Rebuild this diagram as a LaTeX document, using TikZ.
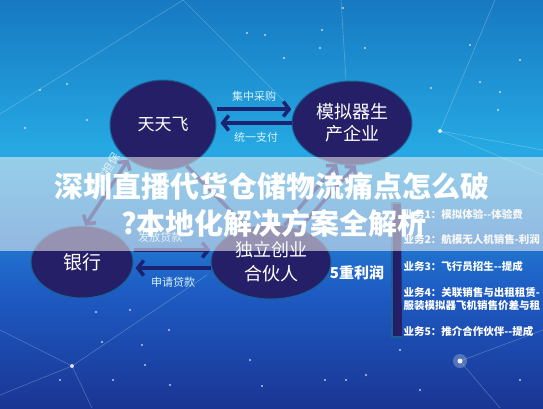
\documentclass[tikz,border=0pt]{standalone}
\usepackage{fontspec}
\setmainfont{Noto Sans CJK SC}
\usetikzlibrary{arrows.meta,shapes.geometric}
\definecolor{bgtop}{HTML}{1779C2}
\definecolor{bgmid}{HTML}{26A9E3}
\definecolor{bglow}{HTML}{1E5CC4}
\definecolor{bgbot}{HTML}{1A3594}
\definecolor{bubble}{HTML}{241F66}
\definecolor{navy}{HTML}{1B2272}
\tikzset{
  >={Straight Barb[length=6pt,width=15pt]},
  bubble/.style={ellipse, fill=bubble, draw=bubble!70!cyan, line width=1pt,
    text=white, align=center, inner sep=0pt},
  arr/.style={draw=navy, line width=3.5pt, ->},
  lbl/.style={text=white!85!cyan, font=\fontsize{11}{11}\selectfont},
  item/.style={anchor=west, text=white, font=\fontsize{10.5}{10.5}\selectfont\bfseries},
  ttl/.style={font=\fontsize{29}{29}\selectfont\bfseries, text=white, inner sep=0pt},
}
\begin{document}
\begin{tikzpicture}[x=1pt,y=-1pt]
  %%%%% background %%%%%
  \useasboundingbox (0,0) rectangle (543,408);
  \clip (0,0) rectangle (543,408);
  \shade[top color=bgtop, bottom color=bgmid] (0,0) rectangle (543,150);
  \shade[top color=bgmid, bottom color=bglow] (0,150) rectangle (543,290);
  \shade[top color=bglow, bottom color=bgbot] (0,290) rectangle (543,408);
  \draw[white, opacity=0.25, line width=0.6pt] (0,114) -- (183,0) -- (346,163);
  \draw[white, opacity=0.25, line width=0.6pt] (341,0) -- (346,80);
  \draw[white, opacity=0.25, line width=0.6pt] (495,0) -- (440,131) -- (543,150);
  \draw[white, opacity=0.25, line width=0.6pt] (440,131) -- (543,175);
  \draw[white, opacity=0.25, line width=0.6pt] (0,330) -- (72,366) -- (207,275);
  \draw[white, opacity=0.25, line width=0.6pt] (0,395) -- (72,366) -- (92,408);
  \draw[white, opacity=0.25, line width=0.6pt] (460,361) -- (543,330);
  \draw[white, opacity=0.25, line width=0.6pt] (460,361) -- (500,408);
  \foreach \sx/\sy in {247/33,265/35,320/48,322/30,284/58,365/48,431/88,480/82,
      500/92,498/110,40/90,67/84,87/120,25/128,343/8,470/45,520/60,
      96/312,130/310,102/342,142/345,169/330,145/365,113/380,250/360,262/386,
      325/380,346/380,366/375,400/350,420/390,500/333,520/380,170/385,60/380}
    \fill[white, opacity=0.7] (\sx,\sy) circle (1.1pt);
  \fill[white, opacity=0.25] (460,361) circle (7pt);
  \fill[white, opacity=0.9] (460,361) circle (2.5pt);
  \fill[white, opacity=0.8] (440,131) circle (2pt);
  \fill[white, opacity=0.8] (72,366) circle (2pt);

  %%%%% partners %%%%%
  \node[bubble, minimum width=106pt, minimum height=90pt,
    font=\fontsize{17}{17}\selectfont] (ttf) at (163,125) {天天飞};
  \node[bubble, minimum width=120pt, minimum height=84pt,
    font=\fontsize{18}{22}\selectfont] (mnq) at (352,123) {模拟器生\\产企业};
  \node[bubble, minimum width=102pt, minimum height=72pt,
    font=\fontsize{19}{19}\selectfont] (yh) at (82,262) {银行};
  \node[bubble, minimum width=120pt, minimum height=74pt,
    font=\fontsize{18}{24}\selectfont] (dl) at (271,262) {独立创业\\合伙人};

  \draw[arr] ([yshift=16pt]ttf.east) -- ([yshift=14pt]mnq.west)
    node[lbl, midway, above=3pt] {集中采购};
  \draw[arr] (mnq.west) -- ([xshift=4pt,yshift=2pt]ttf.east)
    node[lbl, midway, below=4pt] {统一支付};
  \draw[arr] ([yshift=12pt]yh.east) -- ([yshift=12pt]dl.west)
    node[lbl, pos=0.35, above=3pt] {发放贷款};
  \draw[arr] ([yshift=-6pt]dl.west) -- ([xshift=2pt,yshift=-6pt]yh.east)
    node[lbl, midway, below=4pt] {申请贷款};
  \draw[arr, <->] (ttf.225) -- (yh.85)
    node[lbl, pos=0.3, sloped, above=2pt] {贷款担保};
  \draw[arr] (ttf.300) -- (dl.125);
  \draw[arr] (dl.70) -- (mnq.250);
  \draw[arr] (dl.50) -- (mnq.275);

  %%%%% profits %%%%%
  \node[text=white, font=\fontsize{15}{15}\selectfont\bfseries] (lr) at (357,273) {5重利润};
  \draw[bubble, line width=2pt] (401,203) -- (392,203) -- (392,337) -- (402,337);
  \node[item] (y1) at (400,214) {业务1：模拟体验-{}-体验费};
  \node[item] (y2) at (400,240) {业务2：航模无人机销售-利润};
  \node[item] (y3) at (400,266) {业务3：飞行员招生-{}-提成};
  \node[item] (y4) at (400,293) {业务4：关联销售与出租租赁-};
  \node[item] (y4b) at (400,306) {服装模拟器飞机销售价差与租};
  \node[item] (y5) at (400,331) {业务5：推介合作伙伴-{}-提成};

  %%%%% banner %%%%%
  \fill[white!90!gray, opacity=0.55] (0,157) rectangle (543,251);
  \node[ttl] (t1) at (272,186) {深圳直播代货仓储物流痛点怎么破};
  \node[ttl] (t2) at (274,223) {?本地化解决方案全解析};
\end{tikzpicture}
\end{document}
